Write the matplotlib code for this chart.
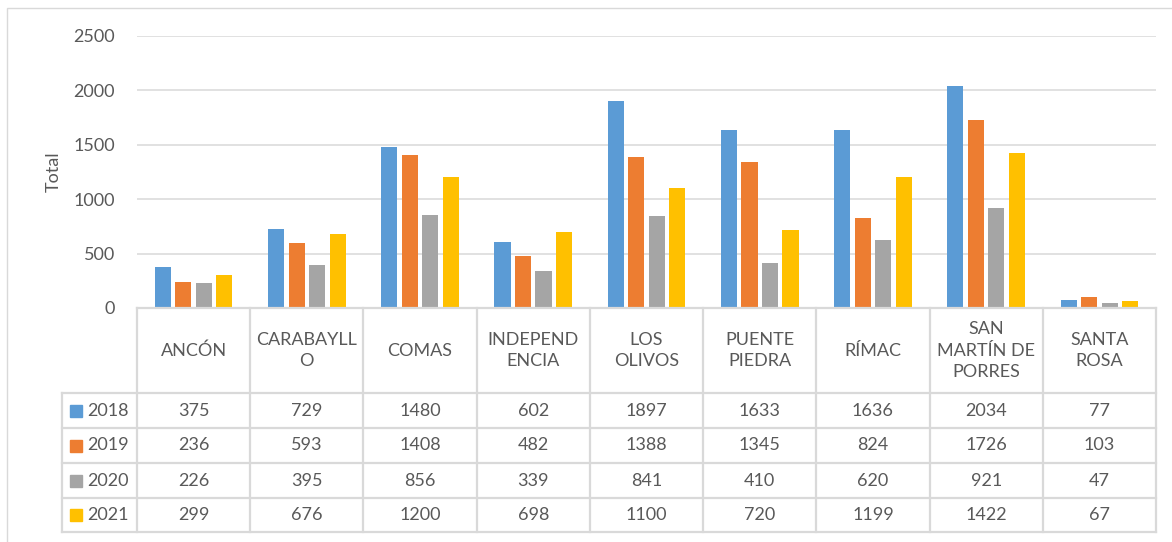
import matplotlib
matplotlib.use("Agg")
import matplotlib.pyplot as plt
from matplotlib.patches import Rectangle
import numpy as np

# ---- data ----
districts = ["ANCÓN", "CARABAYLL\nO", "COMAS", "INDEPEND\nENCIA", "LOS\nOLIVOS",
             "PUENTE\nPIEDRA", "RÍMAC", "SAN\nMARTÍN DE\nPORRES", "SANTA\nROSA"]
years = ["2018", "2019", "2020", "2021"]
v2018 = [375, 729, 1480, 602, 1897, 1633, 1636, 2034, 77]
v2019 = [236, 593, 1408, 482, 1388, 1345, 824, 1726, 103]
v2020 = [226, 395, 856, 339, 841, 410, 620, 921, 47]
v2021 = [299, 676, 1200, 698, 1100, 720, 1199, 1422, 67]
series = [v2018, v2019, v2020, v2021]
colors = ["#5B9BD5", "#ED7D31", "#A5A5A5", "#FFC000"]
yticks = [0, 500, 1000, 1500, 2000, 2500]

TXT = "#595959"
LINE = "#D9D9D9"
plt.rcParams["font.family"] = ["Lato", "DejaVu Sans"]

W, H = 1172, 542
fig = plt.figure(figsize=(W / 100, H / 100), dpi=100)

def fx(px):
    return px / W

def fy(py):
    return 1 - py / H

# layout in pixels
plot_l, plot_r = 137, 1156
plot_t, plot_b = 35.7, 308
tab_l = 62
rows = [308, 393, 428, 463, 498, 532]

# chart frame
fig.patches.append(Rectangle((fx(7), -0.05), 1.1, fy(8) + 0.05, transform=fig.transFigure,
                             fill=False, edgecolor=LINE, lw=1.0))

# ---- bar chart ----
ax = fig.add_axes([fx(plot_l), fy(plot_b), fx(plot_r - plot_l), (plot_b - plot_t) / H])
n = len(districts)
x = np.arange(n)
step = 0.181
bw = 0.142
for k, (vals, c) in enumerate(zip(series, colors)):
    ax.bar(x + (k - 1.5) * step, vals, width=bw, color=c, zorder=3, label=years[k])
ax.set_xlim(-0.5, n - 0.5)
ax.set_ylim(0, 2500)
ax.set_yticks(yticks)
ax.set_yticklabels([str(t) for t in yticks], color=TXT, fontsize=13)
ax.tick_params(axis="y", length=0, pad=16)
ax.set_xticks([])
ax.yaxis.grid(True, color=LINE, lw=1.1, zorder=0)
for s in ax.spines.values():
    s.set_visible(False)
ax.set_ylabel("Total", color=TXT, fontsize=13, labelpad=8)

# ---- data table ----
cat_w = (plot_r - plot_l) / n
leg_w = (plot_l - tab_l) / cat_w
tx = fig.add_axes([fx(tab_l), fy(rows[-1]), fx(plot_r - tab_l), (rows[-1] - rows[0]) / H])
tx.set_xlim(-0.5 - leg_w, n - 0.5)
tx.set_ylim(rows[-1], rows[0])
tx.axis("off")

lk = dict(color=LINE, lw=1.6, solid_capstyle="projecting", clip_on=False)
tx.plot([-0.5, n - 0.5], [rows[0], rows[0]], **lk)
for r in rows[1:]:
    tx.plot([-0.5 - leg_w, n - 0.5], [r, r], **lk)
tx.plot([-0.5 - leg_w, -0.5 - leg_w], [rows[1], rows[-1]], **lk)
for i in range(n + 1):
    tx.plot([i - 0.5, i - 0.5], [rows[0], rows[-1]], **lk)

for i, name in enumerate(districts):
    tx.text(i, (rows[0] + rows[1]) / 2, name, ha="center", va="center",
            color=TXT, fontsize=13, linespacing=1.45)

for k, (vals, c) in enumerate(zip(series, colors)):
    yc = (rows[k + 1] + rows[k + 2]) / 2
    for i, v in enumerate(vals):
        tx.text(i, yc, str(v), ha="center", va="center", color=TXT, fontsize=13)
    # legend key
    x0 = -0.5 - leg_w + 8 / cat_w
    tx.add_patch(Rectangle((x0, yc - 6), 12 / cat_w, 12, color=c, clip_on=False))
    tx.text(x0 + 17 / cat_w, yc, years[k], ha="left", va="center", color=TXT, fontsize=13)

fig.savefig("out.png", dpi=100)
